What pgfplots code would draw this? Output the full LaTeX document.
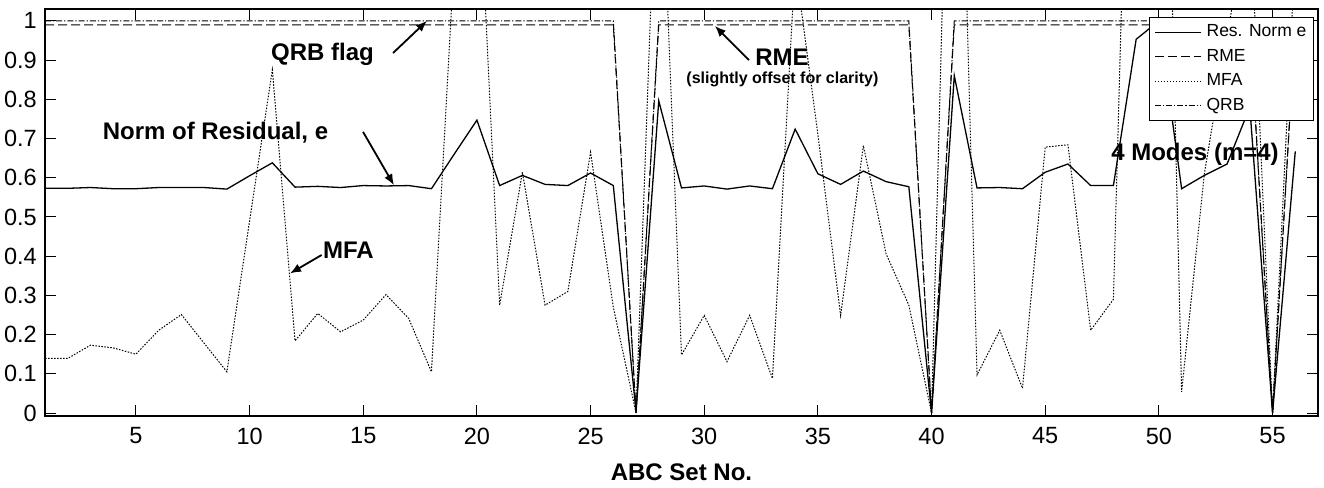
\documentclass[border=0pt]{standalone}
\usepackage{fontspec}
\setmainfont{Liberation Sans}
\usepackage{pgfplots}
\usepackage{pgfplotstable}
\pgfplotsset{compat=1.18}
\usetikzlibrary{arrows.meta}

\pgfplotstableread{
x res mfa rme qrb
1 0.573 0.139 0.99 1.0
2 0.573 0.139 0.99 1.0
3 0.575 0.173 0.99 1.0
4 0.572 0.166 0.99 1.0
5 0.572 0.150 0.99 1.0
6 0.575 0.211 0.99 1.0
7 0.575 0.251 0.99 1.0
8 0.575 0.178 0.99 1.0
9 0.571 0.105 0.99 1.0
10 0.605 0.490 0.99 1.0
11 0.638 0.875 0.99 1.0
12 0.576 0.184 0.99 1.0
13 0.578 0.254 0.99 1.0
14 0.575 0.207 0.99 1.0
15 0.580 0.237 0.99 1.0
16 0.579 0.302 0.99 1.0
17 0.580 0.241 0.99 1.0
18 0.572 0.105 0.99 1.0
19 0.660 1.156 0.99 1.0
20 0.747 1.490 0.99 1.0
21 0.580 0.275 0.99 1.0
22 0.606 0.614 0.99 1.0
23 0.583 0.275 0.99 1.0
24 0.580 0.310 0.99 1.0
25 0.612 0.665 0.99 1.0
26 0.580 0.270 0.99 1.0
27 0.003 0.000 0.00 0.0
28 0.796 1.600 0.99 1.0
29 0.574 0.148 0.99 1.0
30 0.579 0.249 0.99 1.0
31 0.571 0.131 0.99 1.0
32 0.579 0.249 0.99 1.0
33 0.572 0.088 0.99 1.0
34 0.724 1.146 0.99 1.0
35 0.610 0.710 0.99 1.0
36 0.583 0.249 0.99 1.0
37 0.617 0.682 0.99 1.0
38 0.590 0.406 0.99 1.0
39 0.577 0.275 0.99 1.0
40 0.000 0.000 0.00 0.0
41 0.860 2.200 0.99 1.0
42 0.574 0.097 0.99 1.0
43 0.575 0.211 0.99 1.0
44 0.572 0.063 0.99 1.0
45 0.614 0.678 0.99 1.0
46 0.635 0.684 0.99 1.0
47 0.580 0.211 0.99 1.0
48 0.580 0.290 0.99 1.0
49 0.953 2.400 0.99 1.0
50 1.000 2.500 0.99 1.0
51 0.572 0.054 0.99 1.0
52 0.606 0.610 0.99 1.0
53 0.635 0.960 0.99 1.0
54 0.780 1.300 0.99 1.0
55 0.000 0.000 0.00 0.0
56 0.667 1.180 0.99 1.0
}\datatable

\begin{document}
\begin{tikzpicture}
\begin{axis}[
  scale only axis,
  width=1273pt, height=407pt,
  xmin=1, xmax=57, ymin=-0.0077, ymax=1.0303,
  xtick={5,10,15,20,25,30,35,40,45,50,55},
  xticklabels={5,10,15,20,25,30,35,40,45,50,55},
  ytick={0,0.1,0.2,0.3,0.4,0.5,0.6,0.7,0.8,0.9,1},
  yticklabels={0,0.1,0.2,0.3,0.4,0.5,0.6,0.7,0.8,0.9,1},
  tick align=inside,
  tick pos=both,
  major tick length=11pt,
  every tick/.style={black, line width=1pt},
  axis line style={black, line width=1.6pt},
  /pgf/number format/assume math mode=true,
  tick label style={font=\fontsize{23.5}{27}\selectfont, inner sep=0pt},
  xticklabel style={anchor=center, yshift=-20pt},
  yticklabel style={anchor=east, xshift=-8pt},
  xlabel={ABC Set No.},
  xlabel style={font=\bfseries\fontsize{24}{28}\selectfont, at={(axis description cs:0.5,0)}, anchor=base, yshift=-64pt, inner sep=0pt},
  legend entries={Res. Norm e, RME, MFA, QRB},
  legend style={at={(0.9969,0.981)}, anchor=north east, draw=black, line width=1.2pt, fill=white,
     font=\fontsize{17.5}{20}\selectfont, inner xsep=5pt, inner ysep=5pt, row sep=4.5pt,
     nodes={inner sep=2pt, text height=12.5pt, text depth=3.5pt},
     /tikz/every odd column/.append style={column sep=3pt}},
  legend cell align=left,
  legend image code/.code={\draw[#1] (0pt,0pt) -- (46pt,0pt);},
]
\addplot[black, line width=1.3pt] table[x=x, y=res] {\datatable};
\addplot[black, line width=1pt, dash pattern=on 9pt off 4pt] table[x=x, y=rme] {\datatable};
\addplot[black, line width=1pt, dash pattern=on 1.5pt off 1.5pt] table[x=x, y=mfa] {\datatable};
\addplot[black, line width=1pt, dash pattern=on 6pt off 2pt on 1.2pt off 2pt] table[x=x, y=qrb] {\datatable};

\coordinate (SW) at (rel axis cs:0,0);
\coordinate (NE) at (rel axis cs:1,1);

\node[font=\bfseries\fontsize{24}{28}\selectfont, anchor=base, inner sep=0pt] at (axis cs:13.21,0.900) {QRB flag};
\draw[line width=1.8pt, -{Latex[length=11pt,width=9pt]}] (axis cs:16.31,0.918) -- (axis cs:17.80,1.0);

\node[font=\bfseries\fontsize{24}{28}\selectfont, anchor=base, inner sep=0pt] at (axis cs:8.50,0.698) {Norm of Residual, e};
\draw[line width=1.8pt, -{Latex[length=11pt,width=9pt]}] (axis cs:14.99,0.717) -- (axis cs:16.35,0.581);

\node[font=\bfseries\fontsize{24}{28}\selectfont, anchor=base, inner sep=0pt] at (axis cs:14.35,0.394) {MFA};
\draw[line width=1.8pt, -{Latex[length=11pt,width=9pt]}] (axis cs:13.17,0.403) -- (axis cs:11.78,0.356);

\node[font=\bfseries\fontsize{24}{28}\selectfont, anchor=base, inner sep=0pt] at (axis cs:33.42,0.885) {RME};
\node[font=\bfseries\fontsize{16}{19}\selectfont, anchor=base, inner sep=0pt] at (axis cs:33.44,0.841) {(slightly offset for clarity)};
\draw[line width=1.8pt, -{Latex[length=11pt,width=9pt]}] (axis cs:31.97,0.900) -- (axis cs:30.47,0.987);

\node[font=\bfseries\fontsize{24}{28}\selectfont, anchor=base, inner sep=0pt] at (axis cs:51.59,0.645) {4 Modes (m=4)};
\end{axis}
\pgfresetboundingbox
\path[use as bounding box] ([xshift=-45pt,yshift=-71pt]SW) rectangle ([xshift=6pt,yshift=9pt]NE);
\end{tikzpicture}
\end{document}
